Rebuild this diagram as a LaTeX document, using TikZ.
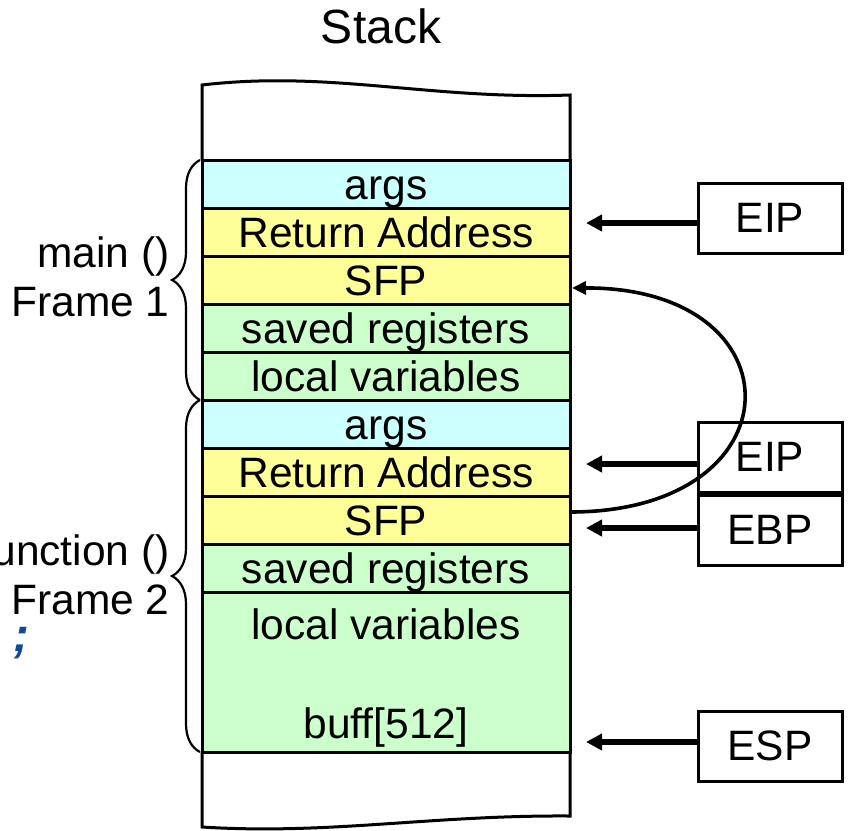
\documentclass[tikz,border=0pt]{standalone}
\usepackage{fontspec}
\setmainfont{Liberation Sans}
\usetikzlibrary{arrows.meta,calc,decorations.pathreplacing}

\definecolor{argcyan}{RGB}{204,255,255}
\definecolor{retyellow}{RGB}{255,255,153}
\definecolor{locgreen}{RGB}{204,255,204}
\definecolor{codeblue}{RGB}{18,72,150}

\tikzset{
  cell/.style={draw, line width=1.5pt, minimum width=184pt, minimum height=24pt,
    inner sep=0pt, outer sep=0pt, text height=17.5pt, text depth=2.5pt},
  regbox/.style={draw, line width=1.5pt, fill=white, minimum width=72pt,
    minimum height=35pt, inner sep=0pt},
  ptr/.style={line width=3pt, -{Triangle[length=8pt,width=8pt]}},
  link/.style={line width=1.8pt, -{Triangle[length=7pt,width=6.5pt]}},
  framebrace/.style={decorate, decoration={brace, amplitude=14pt}, line width=1.1pt}
}

\begin{document}
\begin{tikzpicture}[x=0.5pt, y=-0.5pt, font=\fontsize{21.25}{24.5}\selectfont]

  \useasboundingbox (0,0) rectangle (849,830);

  \node[font=\fontsize{24}{28}\selectfont] (title) at (381,26) {Stack};

  % open ends of the stack
  \draw[line width=1.5pt] (202,160) -- (202,85)
  .. controls (330,70) and (430,100) .. (570,95) -- (570,160);
  \draw[line width=1.5pt] (202,752) -- (202,827)
  .. controls (330,835) and (430,815) .. (570,816) -- (570,752);

  % frame 1
  \node[cell, fill=argcyan] (args1) at (386,184) {args};
  \node[cell, fill=retyellow] (ret1) at (386,232) {Return Address};
  \node[cell, fill=retyellow] (sfp1) at (386,280) {SFP};
  \node[cell, fill=locgreen] (saved1) at (386,328) {saved registers};
  \node[cell, fill=locgreen] (local1) at (386,376) {local variables};

  % frame 2
  \node[cell, fill=argcyan] (args2) at (386,424) {args};
  \node[cell, fill=retyellow] (ret2) at (386,472) {Return Address};
  \node[cell, fill=retyellow] (sfp2) at (386,520) {SFP};
  \node[cell, fill=locgreen] (saved2) at (386,568) {saved registers};
  \node[cell, fill=locgreen, minimum height=80pt] (local2) at (386,672) {};
  \node (localtxt) at (386,624) {local variables};
  \node (buff) at (386,727) {buff[512]};

  % braces and frame names
  \draw[framebrace] ([xshift=-1pt]local1.south west) -- ([xshift=-1pt]args1.north west);
  \draw[framebrace] ([xshift=-1pt]local2.south west) -- ([xshift=-1pt]args2.north west);
  \node[align=right, anchor=east, inner sep=0pt] (mainlbl) at (170,277) {main ()\\Frame 1};
  \node[align=right, anchor=east, inner sep=0pt] (funclbl) at (170,575) {function ()\\Frame 2};
  \node[text=codeblue, inner sep=0pt,
    font=\bfseries\itshape\fontsize{24}{28}\selectfont] (semi) at (21,643) {;};

  % registers
  \node[regbox] (eip1) at (770,218) {EIP};
  \node[regbox] (eip2) at (770,457) {EIP};
  \node[regbox] (ebp) at (770,530) {EBP};
  \node[regbox] (esp) at (770,746) {ESP};

  \draw[ptr] ($(eip1.west)+(0pt,-2.5pt)$) -- ($(ret1.east |- eip1.west)+(8pt,-2.5pt)$);
  \draw[ptr] ($(eip2.west)+(0pt,-3.5pt)$) -- ($(ret2.east |- eip2.west)+(8pt,-3.5pt)$);
  \draw[ptr] ($(ebp.west)+(0pt,1pt)$) -- ($(sfp2.east |- ebp.west)+(8pt,1pt)$);
  \draw[ptr] ($(esp.west)+(0pt,2pt)$) -- ($(local2.east |- esp.west)+(8pt,2pt)$);

  % saved frame pointer
  \draw[link] ($(sfp2.east)+(0pt,4pt)$) .. controls (800,512) and (802,287) ..
  ($(sfp1.east)+(1pt,-4pt)$);

\end{tikzpicture}
\end{document}
